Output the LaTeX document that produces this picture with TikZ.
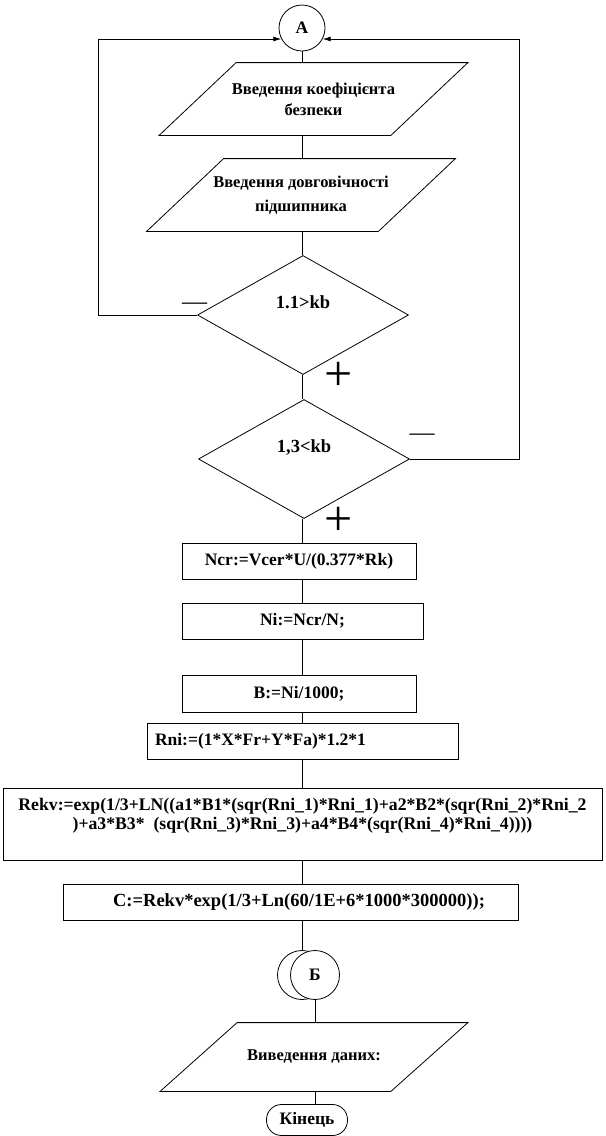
\documentclass[tikz,border=0pt]{standalone}
\usepackage{fontspec}
\setmainfont{Liberation Serif}
\usetikzlibrary{shapes.geometric,arrows.meta}

\begin{document}
\begin{tikzpicture}[x=1bp,y=-1bp,line width=0.8bp,
    txt/.style={font=\bfseries\fontsize{17.5bp}{19bp}\selectfont},
    procbox/.style={draw,txt,minimum height=36bp,inner sep=0pt},
    iobox/.style={minimum width=231bp,minimum height=72bp,inner sep=0pt,
        align=center,font=\bfseries\fontsize{16.5bp}{21bp}\selectfont},
    ifbox/.style={draw,diamond,minimum width=211bp,minimum height=119bp,inner sep=0pt,
        text height=12bp,text depth=26bp,font=\bfseries\fontsize{18.5bp}{20bp}\selectfont},
    connbox/.style={draw,circle,minimum size=46bp,inner sep=0pt,txt},
    endbox/.style={draw,rounded corners=15bp,minimum width=81bp,minimum height=31bp,inner sep=0pt,txt},
    signplus/.style={inner sep=0pt,font=\fontsize{50bp}{50bp}\selectfont},
    signminus/.style={inner sep=0pt,font=\fontsize{25bp}{25bp}\selectfont},
    arr/.style={-{Latex[length=8bp,width=5bp]}}]
\useasboundingbox (0,0) rectangle (606,1136);

\node[connbox] (A) at (302,28) {А};
\node[iobox] (in1) at (313.5,99) {Введення коефіцієнта\\безпеки};
\node[iobox] (in2) at (301,195) {Введення довговічності\\[3bp]підшипника};
\node[ifbox] (d1) at (303,315) {1.1>kb};
\node[ifbox] (d2) at (304,459) {1,3<kb};
\node[procbox,minimum width=234bp] (ncr) at (299,561) {Ncr:=Vcer*U/(0.377*Rk)};
\node[procbox,minimum width=241bp] (ni) at (302.5,621) {Ni:=Ncr/N;};
\node[procbox,minimum width=234bp,minimum height=37bp] (bb) at (299,693.5) {B:=Ni/1000;};
\node[procbox,minimum width=311bp,text width=295bp,inner xsep=8bp,align=left] (rni) at (302.5,741) {Rni:=(1*X*Fr+Y*Fa)*1.2*1};
\node[procbox,minimum width=599bp,minimum height=72bp,align=center,font=\bfseries\fontsize{17.7bp}{19bp}\selectfont] (rekv) at (302.5,824)
    {Rekv:=exp(1/3+LN((a1*B1*(sqr(Rni\_1)*Rni\_1)+a2*B2*(sqr(Rni\_2)*Rni\_2\\)+a3*B3*~ (sqr(Rni\_3)*Rni\_3)+a4*B4*(sqr(Rni\_4)*Rni\_4))))\hspace*{78bp}\\[2bp]\mbox{}};
\node[procbox,minimum width=455bp,font=\bfseries\fontsize{18.5bp}{19bp}\selectfont] (cc) at (290.5,902) {\hspace*{17bp}C:=Rekv*exp(1/3+Ln(60/1E+6*1000*300000));};
\node[connbox,minimum size=49bp] (B0) at (302,975) {};
\node[connbox,minimum size=49bp,fill=white] (B1) at (315,975) {Б};
\node[iobox,minimum height=68bp,minimum width=230bp] (out) at (314,1057) {Виведення даних:};
\node[endbox] (kin) at (307,1120) {Кінець};

% slanted input/output boxes
\foreach \n in {in1,in2,out}
    \draw ([xshift=-38.5bp]\n.south west) -- ([xshift=38.5bp]\n.north west)
        -- ([xshift=38.5bp]\n.north east) -- ([xshift=-38.5bp]\n.south east) -- cycle;

% main column
\foreach \a/\b in {A/in1,in1/in2,in2/d1,d1/d2,d2/ncr,ncr/ni,ni/bb,bb/rni,rni/rekv,rekv/cc,cc/B0}
    \draw (\a.south -| A.south) -- (\b.north -| A.south);
\draw (B1.south) -- (B1.south |- out.north);
\draw (out.south -| B1.south) -- (kin.north -| B1.south);

% loops back to A
\draw[arr] (d1.west) -- ++(-99,0) |- (A.208);
\draw[arr] (d2.east) -- ++(109,0) |- (A.-28);

\node[signminus] (m1) at (194.5,306) {—};
\node[signplus] (p1) at (338.5,376) {+};
\node[signminus] (m2) at (422,437) {—};
\node[signplus] (p2) at (338.5,521) {+};
\end{tikzpicture}
\end{document}
